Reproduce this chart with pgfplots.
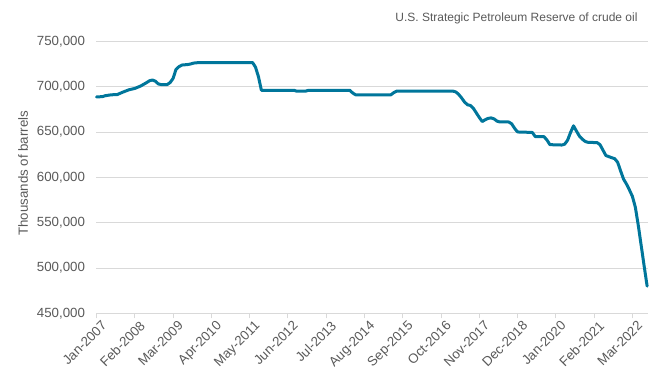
\documentclass[border=0pt]{standalone}
\usepackage{fontspec}
\setmainfont{Liberation Sans}
\usepackage{pgfplots}
\pgfplotsset{compat=1.18}
\definecolor{linec}{RGB}{0,118,155}
\definecolor{txt}{HTML}{595959}
\definecolor{gridc}{HTML}{D9D9D9}
\begin{document}
\begin{tikzpicture}
\path[use as bounding box] (0,0) rectangle (671pt,384pt);
\begin{axis}[
  at={(96.5pt,70.7pt)}, anchor=south west,
  scale only axis, width=551.2pt, height=272pt,
  xmin=0, xmax=187.2, ymin=450000, ymax=750000,
  ytick={450000,500000,...,750000},
  xtick={0,13,...,182},
  xticklabels={Jan-2007,Feb-2008,Mar-2009,Apr-2010,May-2011,Jun-2012,Jul-2013,Aug-2014,Sep-2015,Oct-2016,Nov-2017,Dec-2018,Jan-2020,Feb-2021,Mar-2022},
  axis x line*=bottom, axis y line*=left,
  y axis line style={draw=none},
  x axis line style={draw=gridc, line width=0.9pt},
  ytick style={draw=none},
  xtick style={draw=gridc, line width=0.9pt},
  xtick align=outside, major tick length=5pt,
  ymajorgrids, grid style={draw=gridc, line width=0.9pt},
  /pgf/number format/assume math mode=true,
  /pgf/number format/.cd, fixed, 1000 sep={,}, /pgfplots/.cd,
  scaled y ticks=false,
  tick label style={font=\fontsize{13.3}{15}\selectfont, text=txt},
  yticklabel style={xshift=-8pt},
  xticklabel style={rotate=45, anchor=north east, inner sep=1pt, xshift=3pt, yshift=-3pt},
  ylabel={Thousands of barrels},
  ylabel style={at={(axis description cs:0,0.515)}, anchor=center, xshift=0pt, yshift=73.5pt, font=\fontsize{13.3}{15}\selectfont, text=txt},
  clip=false,
]
\addplot[color=linec, line width=3pt, line join=round, line cap=round] coordinates {
(0,688600)(2,689000)(3,690000)(5,691000)(7,691200)(9,694000)(11,696500)(13,698000)
(15,700700)(17,704400)(18,706500)(19,707300)(20,706000)(21,703000)(22,702200)(24,702300)
(25,704500)(26,709000)(27,719000)(28,722000)(29,723800)(31,724400)(32,725000)(33,726000)
(35,726600)(53,726600)(54,721500)(55,711000)(56,696000)(67,696000)(68,695000)(71,695000)
(72,696000)(86,696000)(87,693000)(88,691000)(100,691000)(101,693500)(102,695100)
(121,695100)(122,694200)(123,691500)(124,687500)(125,683000)(126,680000)(127,679200)
(128,676000)(129,671000)(130,666000)(131,661500)(132,663500)(133,665000)(134,665500)
(135,664500)(136,662000)(137,661000)(140,661000)(141,659000)(142,654000)(143,650000)
(148,649500)(149,645000)(152,644800)(153,641000)(154,636000)(158,635600)(159,636500)
(160,641000)(161,649500)(162,656800)(163,651000)(164,645500)(165,642000)(166,639500)
(167,638500)(170,638300)(171,636000)(172,630000)(173,624000)(175,621600)(176,620500)
(177,616500)(178,607000)(179,598000)(180,592500)(181,586000)(182,579000)(183,567000)
(184,547000)(185,524500)(186,502000)(187,480000)
};
\end{axis}
\node[anchor=east, text=txt, font=\fontsize{12}{14}\selectfont] at (641pt,366pt) {U.S. Strategic Petroleum Reserve of crude oil};
\end{tikzpicture}
\end{document}
